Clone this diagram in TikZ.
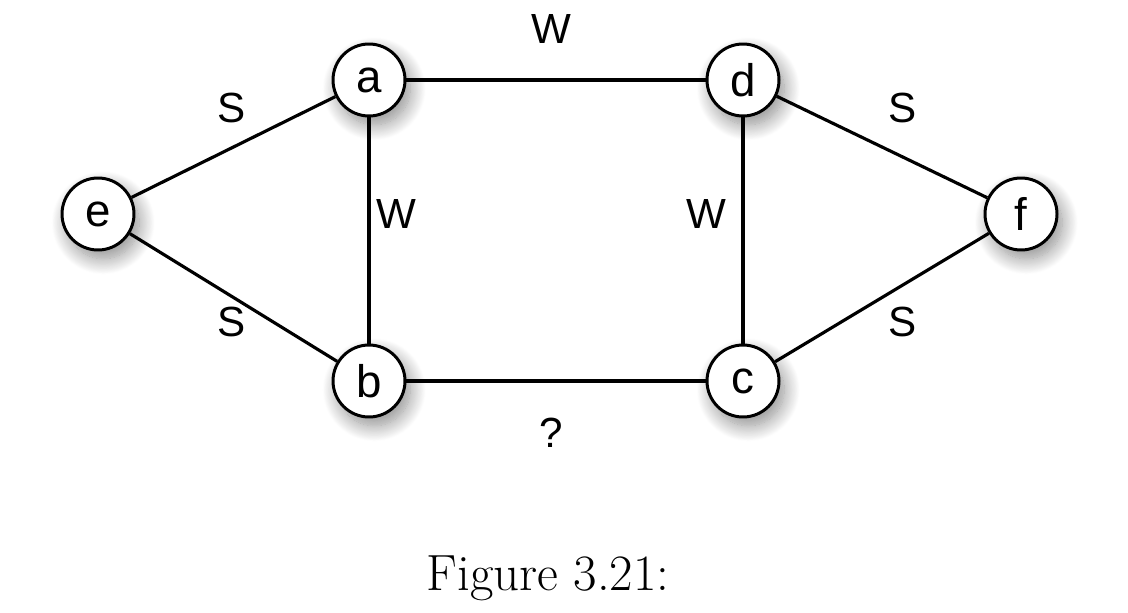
\documentclass[tikz,border=0pt]{standalone}
\usepackage{fontspec}
\newfontfamily\helv{Liberation Sans}
\usetikzlibrary{shadows.blur}
\pgfdeclarelayer{background}
\pgfsetlayers{background,main}
\begin{document}
\begin{tikzpicture}[x=0.02cm,y=-0.02cm,
  vertex/.style={circle,draw=black,fill=white,line width=1.7pt,minimum size=1.44cm,inner sep=0pt,
    font=\helv\fontsize{26}{30}\selectfont,
    blur shadow={shadow xshift=3pt,shadow yshift=-5pt,shadow blur radius=9pt,
      shadow blur steps=20,shadow opacity=45}},
  edge/.style={line width=1.8pt},
  lbl/.style={font=\helv\fontsize{24}{28}\selectfont,inner sep=0pt}]
  \useasboundingbox (0,0) rectangle (1128,612);
  % vertices
  \node[vertex] (a) at (369,80) {a};
  \node[vertex] (d) at (743,80) {d};
  \node[vertex] (e) at (98,214) {e};
  \node[vertex] (f) at (1021,214) {f};
  \node[vertex] (b) at (369,381) {b};
  \node[vertex] (c) at (743,381) {c};
  % edges, kept behind the vertices
  \begin{pgfonlayer}{background}
    \draw[edge] (e) -- (a);
    \draw[edge] (e) -- (b);
    \draw[edge] (a) -- (d);
    \draw[edge] (a) -- (b);
    \draw[edge] (d) -- (c);
    \draw[edge] (b) -- (c);
    \draw[edge] (d) -- (f);
    \draw[edge] (c) -- (f);
  \end{pgfonlayer}
  % edge labels
  \node[lbl] (lad) at (551,29) {W};
  \node[lbl] (lea) at (232,108) {S};
  \node[lbl] (lab) at (396,214) {W};
  \node[lbl] (ldc) at (706,214) {W};
  \node[lbl] (ldf) at (903,108) {S};
  \node[lbl] (leb) at (232,322) {S};
  \node[lbl] (lcf) at (903,322) {S};
  \node[lbl] (lbc) at (551,433) {?};
  % caption
  \node[font=\fontsize{29}{34}\selectfont] (cap) at (548,578) {Figure 3.21:};
\end{tikzpicture}
\end{document}
